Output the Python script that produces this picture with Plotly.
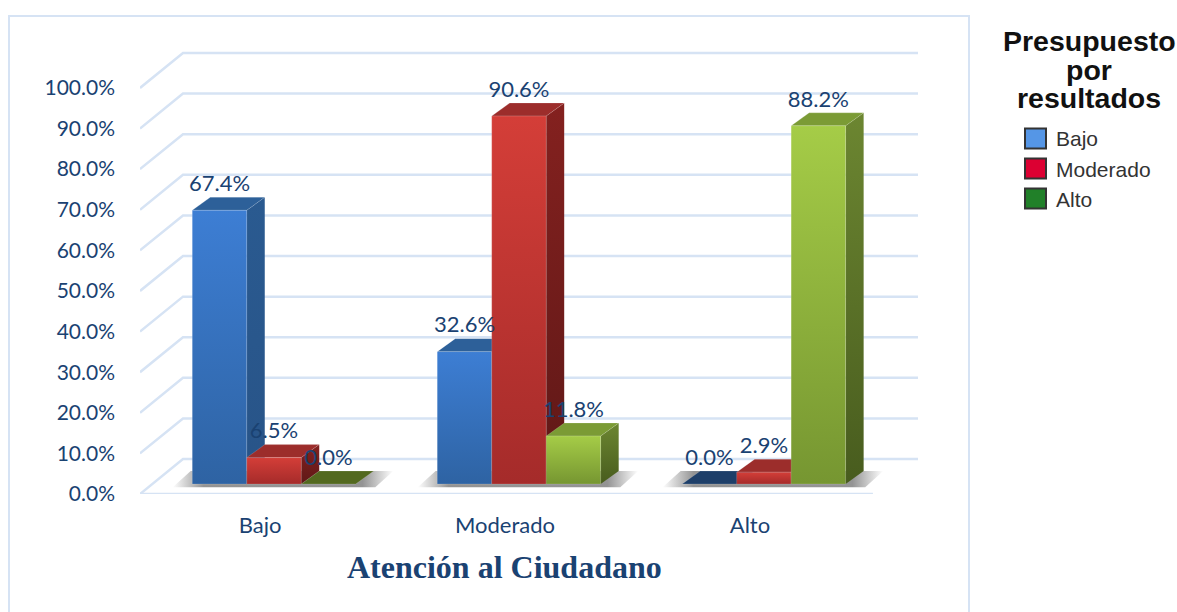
import plotly.graph_objects as go

# Datos
categorias = ['Bajo', 'Moderado', 'Alto']
niveles = ['Bajo', 'Moderado', 'Alto']
bajo = [67.4, 32.6, 0.0]
moderado = [6.5, 90.6, 2.9]
alto = [0.0, 11.8, 88.2]
series = [bajo, moderado, alto]
ticks_y = [0, 10, 20, 30, 40, 50, 60, 70, 80, 90, 100]
titulo_leyenda = ['Presupuesto', 'por', 'resultados']
titulo_eje = 'Atención al Ciudadano'

# Colores por serie (abajo, arriba)
colores_frente = [('#2E63A3', '#3D7ED4'), ('#A52B2A', '#D43E38'), ('#769631', '#A5CC47')]
colores_lado = [('#285488', '#2A5A90'), ('#5F1817', '#84211F'), ('#485C1E', '#6C8631')]
colores_tapa = ['#2D6099', '#9C2D2B', '#7B9B35']
colores_tapa_cero = ['#1E3F69', '#5F1817', '#53691F']
colores_leyenda = ['#5596E6', '#DC0032', '#218029']
AZUL_TEXTO = '#1A4272'
GRID = '#D6E3F4'

# Geometria en unidades de los ejes (245 px por categoria, 4.06 px por punto)
ANCHO = 0.2224
DESPL_GRUPO = 0.057
BASE = 2.46
PROF_X = 0.0735
PROF_Y = 3.2
PISO_X = 0.1755
PISO_Y = 8.6
X_MIN, X_MAX = -0.49, 2.686
X_FIN_PISO = 2.502
Y_MAX = 111.8

fig = go.Figure()


def poligono(xs, ys, color=None, degradado=None, borde=0):
    extra = {}
    if degradado:
        extra['fillgradient'] = dict(type='vertical', colorscale=[[0, degradado[0]], [1, degradado[1]]])
    else:
        extra['fillcolor'] = color
    fig.add_trace(go.Scatter(
        x=xs + xs[:1], y=ys + ys[:1], mode='lines', fill='toself',
        line=dict(width=borde, color='rgba(255,255,255,0.15)'),
        hoverinfo='skip', showlegend=False, **extra
    ))


# Rejilla: pared izquierda y pared del fondo
grid_x, grid_y = [], []
for v in ticks_y:
    grid_x += [X_MIN, X_MIN + PISO_X, X_MAX, None]
    grid_y += [v, v + PISO_Y, v + PISO_Y, None]
grid_x += [X_MIN, X_FIN_PISO]
grid_y += [0, 0]
fig.add_trace(go.Scatter(x=grid_x, y=grid_y, mode='lines', line=dict(color=GRID, width=2.5),
                         hoverinfo='skip', showlegend=False))

# Sombra en el piso debajo de cada grupo
for i in range(len(categorias)):
    x0 = i + DESPL_GRUPO - 1.5 * ANCHO
    x1 = i + DESPL_GRUPO + 1.5 * ANCHO
    m = 0.08
    xs = [x0 - m, x1 + m, x1 + m + PROF_X, x0 - m + PROF_X]
    ys = [BASE - 0.8, BASE - 0.8, BASE + PROF_Y, BASE + PROF_Y]
    fig.add_trace(go.Scatter(
        x=xs + xs[:1], y=ys + ys[:1], mode='lines', fill='toself', line=dict(width=0),
        fillgradient=dict(type='horizontal', colorscale=[
            [0, 'rgba(90,90,90,0)'], [0.14, 'rgba(90,90,90,0.65)'],
            [0.86, 'rgba(90,90,90,0.65)'], [1, 'rgba(90,90,90,0)']]),
        hoverinfo='skip', showlegend=False))

# Barras 3D: lado, tapa y frente de cada barra
for i in range(len(categorias)):
    for s, valores in enumerate(series):
        v = valores[i]
        x0 = i + DESPL_GRUPO + (s - 1.5) * ANCHO
        x1 = x0 + ANCHO
        techo = BASE + v
        if v > 0:
            poligono([x1, x1 + PROF_X, x1 + PROF_X, x1],
                     [BASE, BASE + PROF_Y, techo + PROF_Y, techo], degradado=colores_lado[s])
        tapa = colores_tapa[s] if v > 0 else colores_tapa_cero[s]
        poligono([x0, x1, x1 + PROF_X, x0 + PROF_X],
                 [techo, techo, techo + PROF_Y, techo + PROF_Y], color=tapa, borde=1)
        if v > 0:
            poligono([x0, x1, x1, x0], [BASE, BASE, techo, techo], degradado=colores_frente[s], borde=1)

# Etiquetas de valor
for s, valores in enumerate(series):
    fig.add_trace(go.Scatter(
        x=[i + DESPL_GRUPO + (s - 1) * ANCHO for i in range(len(categorias))],
        y=[BASE + v + 6.1 for v in valores],
        mode='text', text=[f'{v:.1f}%' for v in valores], textposition='middle center',
        textfont=dict(family='Lato', size=22, color=AZUL_TEXTO),
        hoverinfo='skip', showlegend=False))

# Leyenda
for nivel, color in zip(niveles, colores_leyenda):
    fig.add_trace(go.Scatter(
        x=[None], y=[None], mode='markers', name=nivel,
        marker=dict(symbol='square', size=16, color=color, line=dict(color=color, width=0))))

W, H = 1177, 612
M_L, M_R, M_T, M_B = 140, 259, 40, 118
ancho_plot = W - M_L - M_R
alto_plot = H - M_T - M_B


def px_x(p):
    return (p - M_L) / ancho_plot


def px_y(p):
    return 1 - (p - M_T) / alto_plot


anotaciones = [
    dict(text=linea, x=px_x(1089), y=px_y(py), xref='paper', yref='paper', showarrow=False,
         xanchor='center', yanchor='middle',
         font=dict(family='Liberation Sans', size=28.5, color='#111111', weight='bold'))
    for linea, py in zip(titulo_leyenda, [41, 70, 98])
]
anotaciones.append(dict(text=titulo_eje, x=1, y=px_y(567), xref='x', yref='paper', showarrow=False,
                        xanchor='center', yanchor='middle',
                        font=dict(family='Liberation Serif', size=32, color=AZUL_TEXTO, weight='bold')))

# Marco exterior y fondo de los cuadros de la leyenda
formas = [dict(type='rect', xref='paper', yref='paper', x0=px_x(9), x1=px_x(969),
               y0=px_y(640), y1=px_y(16), line=dict(color=GRID, width=2))]
for color, py in zip(colores_leyenda, [138.5, 168.5, 198.5]):
    formas.append(dict(type='rect', xref='paper', yref='paper', x0=px_x(1025), x1=px_x(1046),
                       y0=px_y(py + 10), y1=px_y(py - 10), fillcolor=color,
                       line=dict(color='#333333', width=2)))

fig.update_layout(
    width=W, height=H,
    margin=dict(l=M_L, r=M_R, t=M_T, b=M_B),
    paper_bgcolor='white', plot_bgcolor='white',
    xaxis=dict(range=[X_MIN, X_MAX], tickvals=[0, 1, 2], ticktext=categorias, showgrid=False,
               zeroline=False, showline=False, ticks='', ticklabelstandoff=16,
               tickfont=dict(family='Lato', size=22, color=AZUL_TEXTO)),
    yaxis=dict(range=[0, Y_MAX], tickvals=ticks_y, ticktext=[f'{v:.1f}%' for v in ticks_y],
               showgrid=False, zeroline=False, showline=False, ticks='', ticklabelstandoff=24,
               tickfont=dict(family='Lato', size=21, color=AZUL_TEXTO)),
    legend=dict(x=px_x(1016), y=px_y(118), xanchor='left', yanchor='top', bgcolor='rgba(0,0,0,0)',
                font=dict(family='Liberation Sans', size=21, color='#333333'),
                itemwidth=30, traceorder='normal'),
    annotations=anotaciones,
    shapes=formas,
)

fig.write_html("out.html", config={'displayModeBar': False},
               post_script="document.body.style.margin='0';")
